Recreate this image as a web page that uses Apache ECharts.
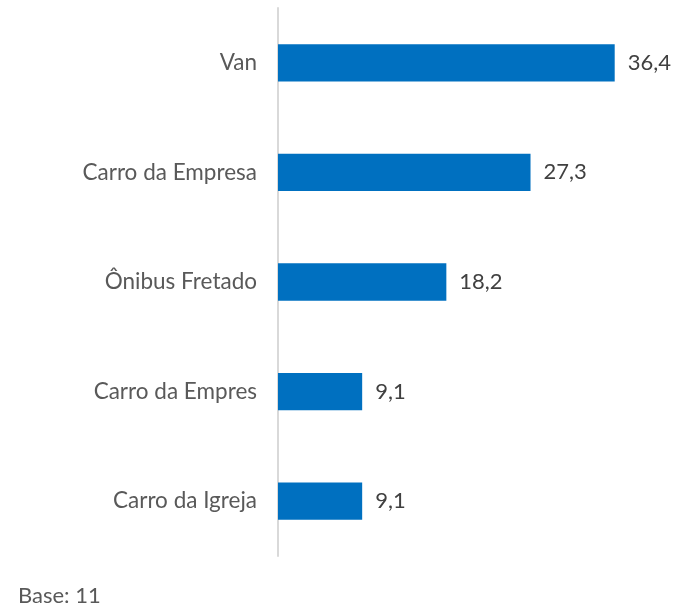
<!DOCTYPE html>
<html>
<head>
<meta charset="utf-8">
<script src="https://cdn.jsdelivr.net/npm/echarts@6/dist/echarts.min.js"></script>
<style>html,body{margin:0;padding:0;background:#fff}#c{width:683px;height:609px}</style>
</head>
<body>
<div id="c"></div>
<script>
const categories = ["Van", "Carro da Empresa", "Ônibus Fretado", "Carro da Empres", "Carro da Igreja"];
const values = [36.4, 27.3, 18.2, 9.1, 9.1];
const baseNote = "Base: 11";

const chart = echarts.init(document.getElementById('c'));
chart.setOption({
  animation: false,
  backgroundColor: '#ffffff',
  grid: { left: 278, right: 35, top: 8, bottom: 53, containLabel: false },
  xAxis: {
    type: 'value', min: 0, max: 40,
    show: false
  },
  yAxis: {
    type: 'category', data: categories, inverse: true,
    axisLine: { show: true, lineStyle: { color: '#d9d9d9', width: 2 } },
    axisTick: { show: false },
    axisLabel: { color: '#595959', fontSize: 22.5, fontFamily: 'Lato, sans-serif', margin: 21 },
    splitLine: { show: false }
  },
  series: [{
    type: 'bar', data: values,
    barCategoryGap: '66%',
    itemStyle: { color: '#0070C0' },
    label: {
      show: true, position: 'right', distance: 13,
      color: '#404040', fontSize: 22, fontFamily: 'Lato, sans-serif',
      formatter: p => String(p.value).replace('.', ',')
    }
  }],
  graphic: [{
    type: 'text', left: 18, top: 585,
    style: { text: baseNote, fill: '#595959', fontSize: 22, fontFamily: 'Lato, sans-serif' }
  }]
});
</script>
</body>
</html>
